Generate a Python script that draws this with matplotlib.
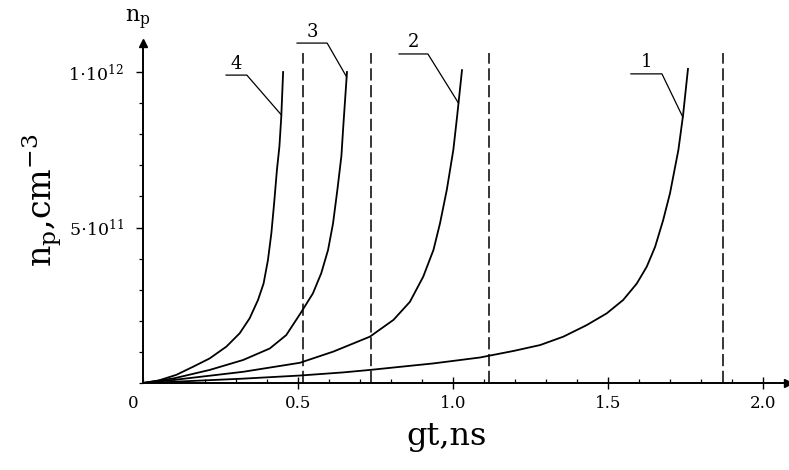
import numpy as np
import matplotlib
matplotlib.use("Agg")
import matplotlib.pyplot as plt
from matplotlib.ticker import MultipleLocator, FixedLocator

plt.rcParams['font.family'] = ['DejaVu Serif']
plt.rcParams['mathtext.fontset'] = 'dejavuserif'

# ---- data (gt in ns, n_p in units of 1e11 cm^-3) ----
t1 = [0.0, 0.10, 0.323, 0.506, 0.645, 0.732, 0.937, 1.087, 1.195, 1.281, 1.356, 1.431,
      1.496, 1.549, 1.593, 1.625, 1.652, 1.678, 1.700, 1.727, 1.742, 1.758]
n1 = [0.0, 0.04, 0.14, 0.24, 0.34, 0.42, 0.63, 0.82, 1.03, 1.22, 1.49, 1.86,
      2.24, 2.67, 3.20, 3.74, 4.38, 5.24, 6.10, 7.49, 8.60, 10.1]

t2 = [0.0, 0.10, 0.323, 0.506, 0.614, 0.732, 0.808, 0.861, 0.904, 0.937, 0.958,
      0.980, 1.001, 1.013, 1.029]
n2 = [0.0, 0.10, 0.36, 0.65, 1.01, 1.49, 2.03, 2.61, 3.42, 4.28, 5.13,
      6.21, 7.49, 8.55, 10.06]

t3 = [0.0, 0.10, 0.215, 0.323, 0.409, 0.462, 0.508, 0.548, 0.575, 0.597, 0.613,
      0.627, 0.640, 0.646, 0.658]
n3 = [0.0, 0.15, 0.42, 0.74, 1.11, 1.54, 2.24, 2.88, 3.53, 4.28, 5.13,
      6.21, 7.30, 8.24, 10.0]

t4 = [0.0, 0.05, 0.107, 0.161, 0.215, 0.269, 0.312, 0.344, 0.371, 0.389, 0.403,
      0.414, 0.423, 0.432, 0.440, 0.446, 0.452]
n4 = [0.0, 0.08, 0.26, 0.52, 0.79, 1.17, 1.60, 2.08, 2.67, 3.20, 3.95,
      4.81, 5.78, 6.85, 7.60, 8.55, 10.0]

dashed_t = [0.515, 0.735, 1.115, 1.87]
curve_labels = ['1', '2', '3', '4']
xtick_vals = [0.5, 1.0, 1.5, 2.0]
xtick_labels = ['0.5', '1.0', '1.5', '2.0']
ytick_vals = [5e11, 1e12]
ytick_labels = [r'$\mathrm{5{\cdot}10^{11}}$', r'$\mathrm{1{\cdot}10^{12}}$']

# label placement (underline start, underline end, underline height, leader target height) in data units
label_pos = {
    '1': (1.574, 1.674, 0.994e12, 0.855e12),
    '2': (0.826, 0.919, 1.058e12, 0.900e12),
    '3': (0.497, 0.594, 1.093e12, 0.984e12),
    '4': (0.268, 0.335, 0.990e12, 0.862e12),
}

W, H = 789, 470
fig = plt.figure(figsize=(W / 100, H / 100), dpi=100)
x0, y0 = 143, 383
xmax, ymax = 2.08, 1.093e12
ax_w = xmax * 310
ax_h = (ymax / 1e12) * 311
ax = fig.add_axes([x0 / W, (H - y0) / H, ax_w / W, ax_h / H])

curves = {'1': (t1, n1), '2': (t2, n2), '3': (t3, n3), '4': (t4, n4)}
for key in curve_labels:
    t, n = curves[key]
    n = np.array(n) * 1e11
    ax.plot(t, n, color='black', lw=1.3, solid_joinstyle='round')
    xs, xe, ly, ty = label_pos[key]
    tx = np.interp(ty, n, t)
    ax.plot([xs, xe, tx], [ly, ly, ty], color='black', lw=0.9, clip_on=False)
    ax.text((xs + xe) / 2, ly + 0.008e12, key, ha='center', va='bottom',
            fontsize=13, clip_on=False)

for d in dashed_t:
    ax.plot([d, d], [0, 1.061e12], color='black', lw=1.1, dashes=(8, 3))

ax.set_xlim(0, xmax)
ax.set_ylim(0, ymax)
for s in ['top', 'right']:
    ax.spines[s].set_visible(False)
for s in ['left', 'bottom']:
    ax.spines[s].set_linewidth(1.4)

ax.xaxis.set_major_locator(FixedLocator(xtick_vals))
ax.set_xticklabels(xtick_labels, fontsize=12)
ax.xaxis.set_minor_locator(MultipleLocator(0.1))
ax.yaxis.set_major_locator(FixedLocator(ytick_vals))
ax.set_yticklabels(ytick_labels, fontsize=12.5)
ax.yaxis.set_minor_locator(MultipleLocator(1e11))
ax.tick_params(axis='x', which='major', direction='inout', length=8, width=1.0, pad=5)
ax.tick_params(axis='x', which='minor', direction='in', length=3, width=0.9)
ax.tick_params(axis='y', which='major', direction='out', length=5, width=1.0, pad=9)
ax.tick_params(axis='y', which='minor', direction='out', length=3, width=0.9)

# axis arrows
ax.plot(1, 0, marker='>', color='black', markersize=6, transform=ax.transAxes, clip_on=False)
ax.plot(0, 1, marker='^', color='black', markersize=6, transform=ax.transAxes, clip_on=False)

fig.text(133 / W, 1 - 404 / H, '0', ha='center', va='center', fontsize=12)
fig.text(138 / W, 1 - 20 / H, r'$\mathrm{n_p}$', ha='center', va='center', fontsize=16)
fig.text(447 / W, 1 - 437 / H, 'gt,ns', ha='center', va='center', fontsize=23)
fig.text(42 / W, 1 - 200 / H, r'$\mathrm{n_p{,}cm^{-3}}$', ha='center', va='center',
         fontsize=24, rotation=90)

fig.savefig('out.png', dpi=100)
